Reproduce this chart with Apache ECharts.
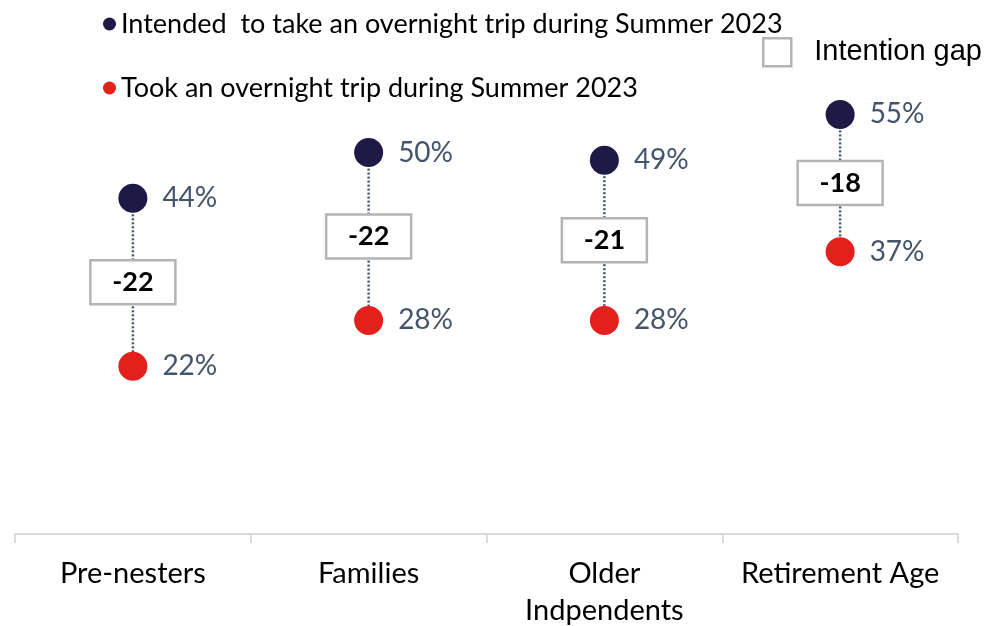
<!DOCTYPE html>
<html>
<head>
<meta charset="utf-8">
<script src="https://cdn.jsdelivr.net/npm/echarts@6/dist/echarts.min.js"></script>
<style>
  html, body { margin: 0; padding: 0; background: #fff; }
  #main { width: 987px; height: 626px; }
</style>
</head>
<body>
<div id="main"></div>
<script>
// segments on the x axis
var categories = ['Pre-nesters', 'Families', 'Older\nIndpendents', 'Retirement Age'];
// share that intended to travel / actually travelled (%)
var intended = [44, 50, 49, 55];
var took = [22, 28, 28, 37];
// gap shown in the box
var gaps = [-22, -22, -21, -18];

var NAVY = '#1f1a45';
var RED = '#e3201b';
var SLATE = '#44546a';
var BOX = '#b4b4b4';
var FONT = 'Lato';

var chart = echarts.init(document.getElementById('main'));

var gapData = categories.map(function (c, i) {
  return [i, intended[i], took[i], gaps[i]];
});

function renderGap(params, api) {
  var i = api.value(0);
  var p1 = api.coord([i, api.value(1)]);
  var p2 = api.coord([i, api.value(2)]);
  var mid = (p1[1] + p2[1]) / 2;
  var w = 85, h = 44;
  return {
    type: 'group',
    children: [
      {
        type: 'line',
        shape: { x1: p1[0], y1: p1[1], x2: p2[0], y2: p2[1] },
        style: { stroke: SLATE, lineWidth: 2.5, lineDash: [2, 2] }
      },
      {
        type: 'rect',
        shape: { x: p1[0] - w / 2, y: mid - h / 2, width: w, height: h },
        style: { fill: '#fff', stroke: BOX, lineWidth: 2.5 },
        z2: 5
      },
      {
        type: 'text',
        x: p1[0],
        y: mid,
        style: {
          text: String(api.value(3)),
          fill: '#000',
          font: 'bold 27px ' + FONT,
          align: 'center',
          verticalAlign: 'middle'
        },
        z2: 6
      }
    ]
  };
}

chart.setOption({
  animation: false,
  backgroundColor: '#fff',
  grid: { left: 15, right: 29, top: 0, bottom: 92, outerBoundsMode: 'none', containLabel: false },
  legend: [
    {
      data: ['Intended  to take an overnight trip during Summer 2023', 'Took an overnight trip during Summer 2023'],
      orient: 'vertical',
      left: 103,
      top: 9,
      padding: 0,
      icon: 'circle',
      itemWidth: 13,
      itemHeight: 13,
      itemGap: 34,
      selectedMode: false,
      textStyle: { fontFamily: FONT, fontSize: 27, color: '#000', lineHeight: 30 }
    },
    {
      data: [{ name: 'Intention gap', icon: 'rect', itemStyle: { color: '#fff', borderColor: BOX, borderWidth: 2.5 } }],
      left: 762,
      top: 37,
      padding: 0,
      itemWidth: 28,
      itemHeight: 28,
      itemGap: 0,
      selectedMode: false,
      textStyle: { fontFamily: 'Liberation Sans', fontSize: 29, color: '#000', padding: [0, 0, 0, 18] }
    }
  ],
  xAxis: {
    type: 'category',
    data: categories,
    axisLine: { lineStyle: { color: '#d0d0d0', width: 1.5 } },
    axisTick: { show: true, interval: 0, length: 9, lineStyle: { color: '#d0d0d0', width: 1.5 } },
    axisLabel: {
      interval: 0,
      hideOverlap: false,
      fontFamily: FONT,
      fontSize: 29,
      color: '#000',
      margin: 21,
      lineHeight: 37
    }
  },
  yAxis: {
    type: 'value',
    min: 0,
    max: 70,
    show: false,
    splitLine: { show: false }
  },
  series: [
    {
      name: 'Intention gap',
      type: 'custom',
      renderItem: renderGap,
      data: gapData,
      encode: { x: 0, y: [1, 2] },
      itemStyle: { color: '#fff', borderColor: BOX },
      z: 1
    },
    {
      name: 'Intended  to take an overnight trip during Summer 2023',
      type: 'scatter',
      data: intended,
      symbolSize: 29,
      itemStyle: { color: NAVY, opacity: 1 },
      label: {
        show: true,
        position: 'right',
        distance: 15,
        formatter: '{c}%',
        fontFamily: FONT,
        fontSize: 28,
        color: SLATE
      },
      z: 3
    },
    {
      name: 'Took an overnight trip during Summer 2023',
      type: 'scatter',
      data: took,
      symbolSize: 29,
      itemStyle: { color: RED, opacity: 1 },
      label: {
        show: true,
        position: 'right',
        distance: 15,
        formatter: '{c}%',
        fontFamily: FONT,
        fontSize: 28,
        color: SLATE
      },
      z: 3
    }
  ]
});
</script>
</body>
</html>
